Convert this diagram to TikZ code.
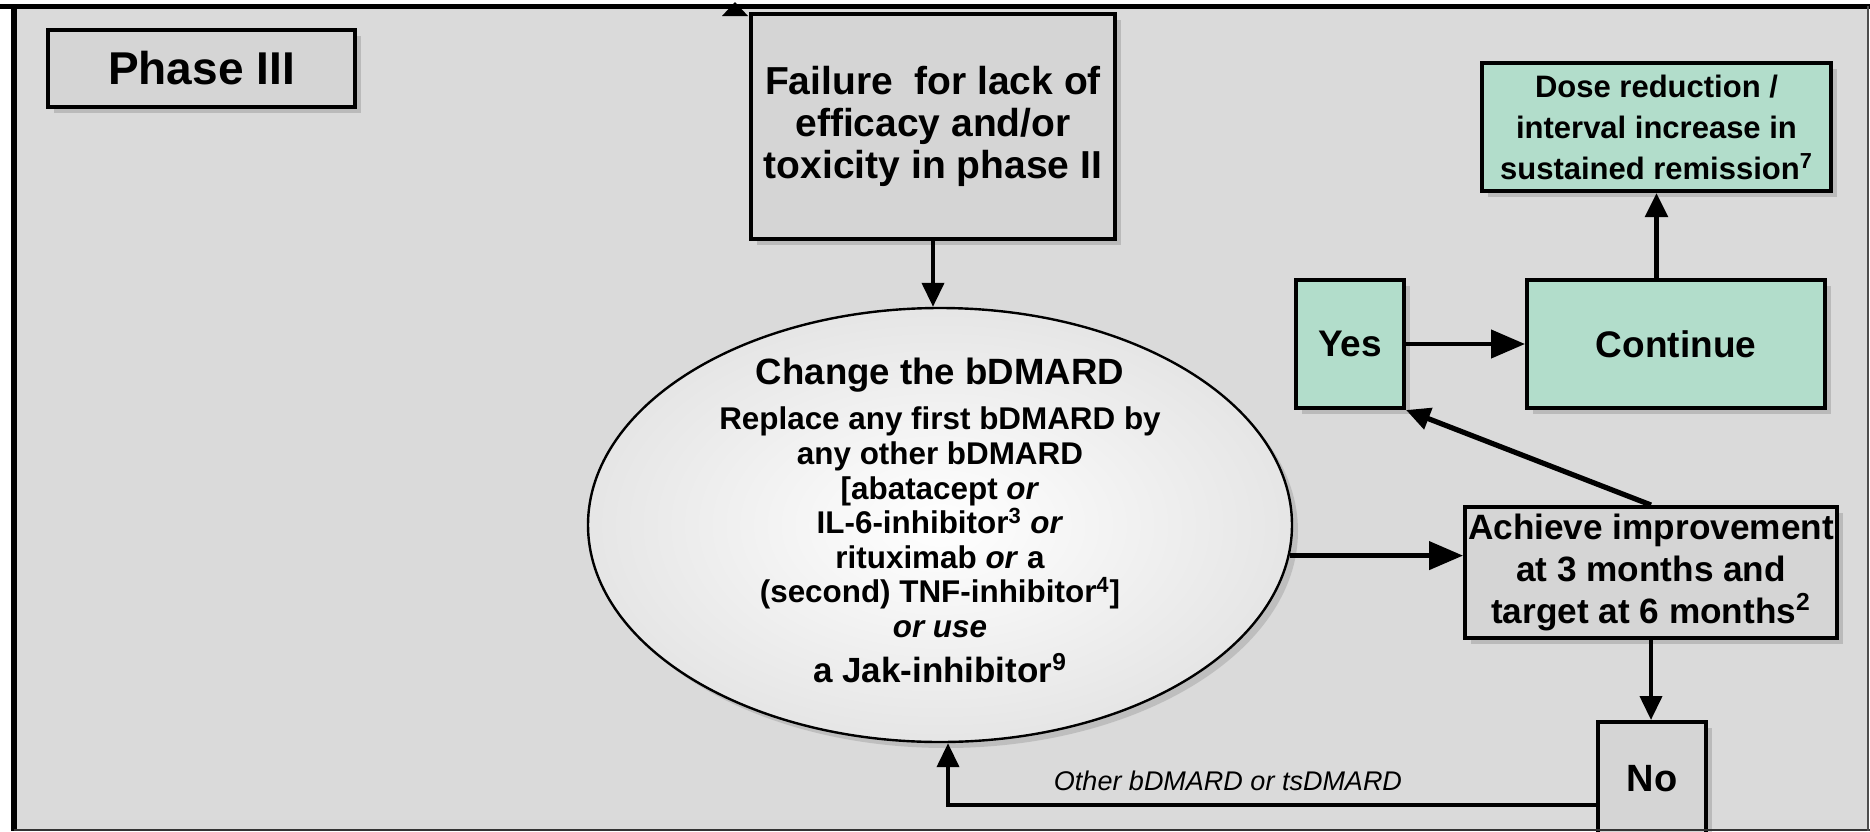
\documentclass[tikz,border=0pt]{standalone}
\usepackage{fontspec}
\setmainfont{Liberation Sans}
\usetikzlibrary{shapes.geometric,arrows.meta,shadows,calc}
\definecolor{bgc}{RGB}{218,218,218}
\definecolor{boxc}{RGB}{213,213,213}
\definecolor{grn}{RGB}{178,221,203}
\begin{document}
\begin{tikzpicture}[x=0.5pt,y=-0.5pt,
  box/.style={draw=black, line width=2pt, fill=boxc, align=center, inner sep=0pt,
    drop shadow={opacity=0.35, shadow xshift=3pt, shadow yshift=-3pt}},
  gbox/.style={box, fill=grn},
  arr/.style={line width=2pt, -{Triangle[length=12pt,width=11pt]}},
  bigarr/.style={line width=2.2pt, -{Triangle[length=17pt,width=14pt]}},
]
\useasboundingbox (0,0) rectangle (1870,831);
\clip (0,0) rectangle (1870,831);
\fill[white] (0,0) rectangle (1870,831);
\fill[bgc] (14,6) rectangle (1868,830);

% truncated arrow head at the top
\fill (722,16) -- (748,16) -- (735,2) -- cycle;

\node[box, minimum width=153.5pt, minimum height=38.5pt, font=\fontsize{23}{23}\selectfont\bfseries] (phase) at (201.5,68.5) {Phase III};

\node[box, minimum width=182pt, minimum height=112.5pt, font=\fontsize{19.5}{21}\selectfont\bfseries] (fail) at (933,126.5)
  {Failure\ \ for lack of\\efficacy and/or\\toxicity in phase II};

\node[gbox, minimum width=174.5pt, minimum height=64pt, font=\fontsize{15.5}{20.5}\selectfont\bfseries] (dose) at (1656.5,127)
  {Dose reduction /\\interval increase in\\sustained remission\textsuperscript{7}};

\node[gbox, minimum width=54pt, minimum height=64pt, font=\fontsize{18.5}{18.5}\selectfont\bfseries] (yes) at (1350,344) {Yes};
\node[gbox, minimum width=149pt, minimum height=64pt, font=\fontsize{18.5}{18.5}\selectfont\bfseries] (cont) at (1676,344) {Continue};

\node[box, minimum width=186pt, minimum height=65.5pt, font=\fontsize{17.6}{21}\selectfont\bfseries] (ach) at (1651,572.5)
  {Achieve improvement\\at 3 months and\\target at 6 months\textsuperscript{2}};

\node[box, minimum width=54pt, minimum height=60pt, font=\fontsize{19}{19}\selectfont\bfseries] (no) at (1652,782) {};
\node[font=\fontsize{19}{19}\selectfont\bfseries] (notxt) at (1652,779) {No};

\node[ellipse, draw=black, line width=1.2pt, minimum width=352pt, minimum height=217pt, inner sep=0pt,
  inner color=white, outer color=black!10,
  drop shadow={opacity=0.3, shadow xshift=3pt, shadow yshift=-3pt}] (ell) at (940,525) {};
\node[align=center, font=\fontsize{15.7}{17.3}\selectfont\bfseries] (elltxt) at (940,520.5)
  {{\fontsize{18.3}{18.3}\selectfont Change the bDMARD}\\[5.5pt]
   Replace any first bDMARD by\\
   any other bDMARD\\
   {[}abatacept \textit{or}\\
   IL-6-inhibitor\textsuperscript{3} \textit{or}\\
   rituximab \textit{or} a\\
   (second) TNF-inhibitor\textsuperscript{4}]\\
   \textit{or use}\\[5.4pt]
   {\fontsize{17.5}{17.5}\selectfont a Jak-inhibitor\textsuperscript{9}}};

% connectors
\draw[arr] (fail.south) -- (fail.south |- ell.north);
\draw[bigarr] (ell.-5.8) -- (ell.-5.8 -| ach.west);
\draw[bigarr] (yes.east) -- (cont.west);
\draw[arr, line width=2.6pt] (dose.south |- cont.north) -- (dose.south);
\draw[arr, line width=2.6pt] (ach.north) -- (yes.south east);
\draw[arr] (ach.south) -- (ach.south |- no.north);
\coordinate (turn) at (948,805);
\draw[arr] (no.west |- turn) -- (turn) -- (turn |- ell.south);
\node[font=\fontsize{13.5}{13.5}\selectfont\itshape] (lbl) at (1228,781) {Other bDMARD or tsDMARD};

% frame
\draw[line width=2.5pt] (0,6.5) -- (1870,6.5);
\draw[line width=3pt] (14,6) -- (14,831);
\draw[line width=1pt, black!80] (14,829.5) -- (1870,829.5);
\draw[line width=0.8pt, black!70] (1868,6) -- (1868,831);
\end{tikzpicture}
\end{document}
